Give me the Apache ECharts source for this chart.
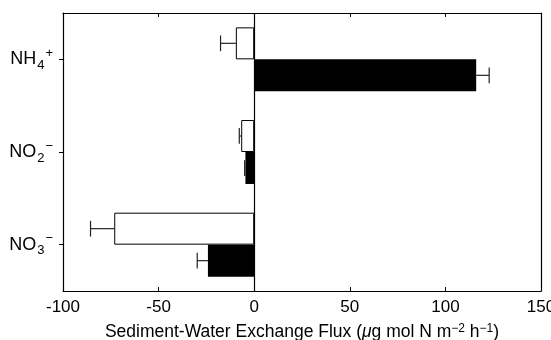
<!DOCTYPE html>
<html>
<head>
<meta charset="utf-8">
<script src="https://cdn.jsdelivr.net/npm/echarts@6/dist/echarts.min.js"></script>
<style>html,body{margin:0;padding:0;background:#fff}#c{width:551px;height:340px}</style>
</head>
<body>
<div id="c"></div>
<script>
const categories = ['NH4+', 'NO2-', 'NO3-'];
const openValues = [-9.6, -6.8, -73.2];
const openErrors = [8.0, 1.0, 12.4];
const filledValues = [116.1, -4.6, -24.2];
const filledErrors = [6.8, 0.4, 5.6];
const xTicks = [-100, -50, 0, 50, 100, 150];

const FONT = 'Liberation Sans, Arial, Helvetica, sans-serif';
const labelMap = {
  'NH4+': '{b|NH}{sub|4}{sup|+}',
  'NO2-': '{b|NO}{sub|2}{sup|\u2212}',
  'NO3-': '{b|NO}{sub|3}{sup|\u2212}'
};

function errorSeries(values, errors, side) {
  return {
    type: 'custom',
    xAxisIndex: 0, yAxisIndex: 0,
    silent: true, z: 5,
    data: values.map((v, i) => [v, i, errors[i]]),
    renderItem: function (params, api) {
      const v = api.value(0), idx = api.value(1), e = api.value(2);
      const end = v >= 0 ? v + e : v - e;
      const p0 = api.coord([v, idx]);
      const p1 = api.coord([end, idx]);
      const band = api.size([0, 1])[1];
      const off = side * band * 0.1727;
      const y = p0[1] + off;
      const cap = band * 0.085;
      return {
        type: 'group',
        children: [
          { type: 'line', shape: { x1: p0[0], y1: y, x2: p1[0], y2: y }, style: { stroke: '#222', lineWidth: 1.2 } },
          { type: 'line', shape: { x1: p1[0], y1: y - cap, x2: p1[0], y2: y + cap }, style: { stroke: '#222', lineWidth: 1.2 } }
        ]
      };
    }
  };
}

const chart = echarts.init(document.getElementById('c'), null, { renderer: 'canvas' });
chart.setOption({
  animation: false,
  backgroundColor: '#fff',
  grid: { left: 63, right: 10, top: 13, bottom: 49, containLabel: false, outerBoundsMode: 'none' },
  xAxis: [{
    type: 'value', min: -100, max: 150, interval: 50, position: 'bottom',
    axisLine: { show: true, onZero: false, lineStyle: { color: '#000', width: 1.2 } },
    axisTick: { show: true, inside: true, length: 4, lineStyle: { color: '#000' } },
    axisLabel: { color: '#000', fontSize: 17, fontFamily: FONT, margin: 8,
      formatter: v => xTicks.indexOf(v) >= 0 ? String(v) : '' },
    splitLine: { show: false },
    name: '{t|Sediment-Water Exchange Flux (}{i|\u03bc}{t|g mol N m}{s|\u22122}{t| h}{s|\u22121}{t|)}',
    nameLocation: 'middle', nameGap: 32,
    nameTextStyle: {
      rich: {
        t: { fontSize: 17.5, fontFamily: FONT, color: '#000' },
        i: { fontSize: 17.5, fontFamily: FONT, fontStyle: 'italic', color: '#000' },
        s: { fontSize: 12, fontFamily: FONT, color: '#000', padding: [0, 0, 7, 0] }
      }
    }
  }, {
    type: 'value', min: -100, max: 150, interval: 50, position: 'top',
    axisLine: { show: true, onZero: false, lineStyle: { color: '#000', width: 1.2 } },
    axisTick: { show: true, inside: true, length: 4, lineStyle: { color: '#000' } },
    axisLabel: { show: false }, splitLine: { show: false }
  }],
  yAxis: [{
    type: 'category', data: categories, inverse: true, position: 'left',
    axisLine: { show: true, onZero: false, lineStyle: { color: '#000', width: 1.2 } },
    axisTick: { show: true, alignWithLabel: true, length: 4, lineStyle: { color: '#000' } },
    axisLabel: {
      margin: 10, color: '#000',
      formatter: v => labelMap[v],
      rich: {
        b: { fontSize: 18, fontFamily: FONT, color: '#000' },
        sub: { fontSize: 13, fontFamily: FONT, color: '#000', padding: [12, 0, 0, 1] },
        sup: { fontSize: 13, fontFamily: FONT, color: '#000', padding: [0, 0, 12, 1] }
      }
    }
  }, {
    type: 'category', data: categories, inverse: true, position: 'right',
    axisLine: { show: true, onZero: false, lineStyle: { color: '#000', width: 1.2 } },
    axisTick: { show: false }, axisLabel: { show: false }
  }],
  series: [{
    type: 'bar', xAxisIndex: 0, yAxisIndex: 0,
    data: openValues, barWidth: '34.5%', barGap: '0%',
    itemStyle: { color: '#fff', borderColor: '#000', borderWidth: 1 },
    markLine: {
      silent: true, symbol: 'none', label: { show: false },
      lineStyle: { color: '#000', type: 'solid', width: 1.2 },
      data: [{ xAxis: 0 }]
    }
  }, {
    type: 'bar', xAxisIndex: 0, yAxisIndex: 0,
    data: filledValues, barWidth: '34.5%', barGap: '0%',
    itemStyle: { color: '#000', borderColor: '#000', borderWidth: 0 }
  },
  errorSeries(openValues, openErrors, -1),
  errorSeries(filledValues, filledErrors, 1)
  ]
});
</script>
</body>
</html>
